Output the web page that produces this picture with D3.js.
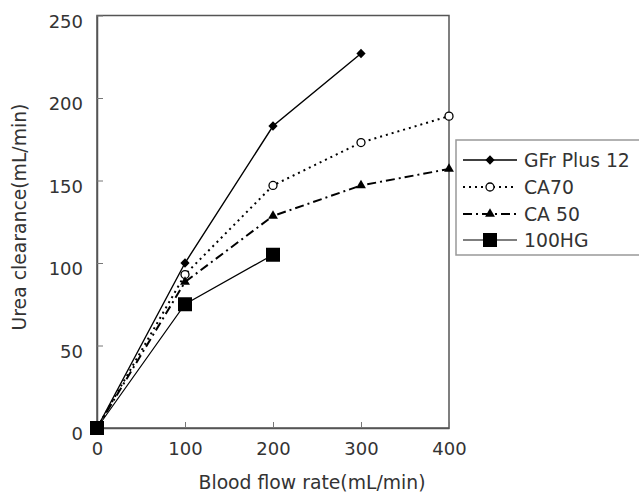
<!DOCTYPE html>
<html><head><meta charset="utf-8">
<script src="https://cdn.jsdelivr.net/npm/d3@7"></script>
<style>body{margin:0;background:#fff}svg{display:block}text{font-family:"DejaVu Sans",sans-serif;fill:#333}</style>
</head><body><svg id="c" width="639" height="492"></svg>
<script>
const flowRates = [0, 100, 200, 300, 400];
const gfrPlus12 = [0, 100, 183, 227];
const ca70 = [0, 93, 147, 173, 189];
const ca50 = [0, 88.5, 128.5, 147, 157];
const hg100 = [0, 75, 105];
const xTicks = [0, 100, 200, 300, 400];
const yTicks = [0, 50, 100, 150, 200, 250];
const seriesNames = ["GFr Plus 12", "CA70", "CA 50", "100HG"];

const svg = d3.select("#c");
const x = d3.scaleLinear().domain([0, 400]).range([97, 449]);
const y = d3.scaleLinear().domain([0, 250]).range([428, 15.5]);
const axisColor = "#555";

svg.append("rect").attr("x", 97).attr("y", 15.5).attr("width", 352).attr("height", 412.5)
  .attr("fill", "none").attr("stroke", axisColor).attr("stroke-width", 1.5);

const xAxis = svg.append("g").attr("transform", "translate(0,428)")
  .call(d3.axisBottom(x).tickValues(xTicks).tickSizeInner(-6).tickSizeOuter(0).tickPadding(14));
xAxis.select(".domain").attr("stroke", axisColor).attr("stroke-width", 1.5);
xAxis.selectAll(".tick line").attr("stroke", "#777");
xAxis.selectAll("text").attr("font-size", 18).attr("fill", "#333").attr("font-family", "DejaVu Sans");

const yAxis = svg.append("g").attr("transform", "translate(97,0)")
  .call(d3.axisLeft(y).tickValues(yTicks).tickSizeInner(-6).tickSizeOuter(0).tickPadding(14));
yAxis.select(".domain").attr("stroke", axisColor).attr("stroke-width", 1.5);
yAxis.selectAll(".tick line").attr("stroke", "#777");
yAxis.selectAll("text").attr("font-size", 18).attr("fill", "#333").attr("font-family", "DejaVu Sans").attr("dy", "0.65em");

svg.append("text").attr("x", 312).attr("y", 489).attr("text-anchor", "middle")
  .attr("font-size", 18.8).text("Blood flow rate(mL/min)");
svg.append("text").attr("transform", "translate(26,217) rotate(-90)").attr("text-anchor", "middle")
  .attr("font-size", 18.8).text("Urea clearance(mL/min)");

const styles = [
  {data: gfrPlus12, dash: null, sw: 1.4, marker: "diamond"},
  {data: ca70, dash: "2,4", sw: 2, marker: "circle"},
  {data: ca50, dash: "9,4,2,4", sw: 2, marker: "triangle"},
  {data: hg100, dash: null, sw: 1.2, marker: "square"}
];

function drawMarker(g, type, cx, cy) {
  if (type === "diamond") {
    g.append("path").attr("d", "M0,-4.8L4.6,0L0,4.8L-4.6,0Z").attr("transform", `translate(${cx},${cy})`).attr("fill", "#000");
  } else if (type === "circle") {
    g.append("circle").attr("cx", cx).attr("cy", cy).attr("r", 4).attr("fill", "#fff").attr("stroke", "#000").attr("stroke-width", 1.3);
  } else if (type === "triangle") {
    g.append("path").attr("d", d3.symbol(d3.symbolTriangle, 42)()).attr("transform", `translate(${cx},${cy})`).attr("fill", "#000");
  } else {
    g.append("rect").attr("x", cx - 7).attr("y", cy - 7).attr("width", 14).attr("height", 14).attr("fill", "#000");
  }
}

const line = d3.line().x((d, i) => x(flowRates[i])).y(d => y(d));
const plot = svg.append("g");
styles.forEach(s => {
  plot.append("path").attr("d", line(s.data)).attr("fill", "none").attr("stroke", "#000")
    .attr("stroke-width", s.sw).attr("stroke-dasharray", s.dash);
});
styles.forEach(s => {
  s.data.forEach((v, i) => drawMarker(plot, s.marker, x(flowRates[i]), y(v)));
});

const lg = svg.append("g");
lg.append("rect").attr("x", 456).attr("y", 140).attr("width", 190).attr("height", 115)
  .attr("fill", "#fff").attr("stroke", "#999").attr("stroke-width", 1.5);
const rowsY = [160, 187, 214, 240];
styles.forEach((s, i) => {
  const ry = rowsY[i];
  lg.append("line").attr("x1", 463).attr("x2", 517).attr("y1", ry).attr("y2", ry)
    .attr("stroke", "#000").attr("stroke-width", s.sw).attr("stroke-dasharray", s.dash);
  drawMarker(lg, s.marker, 490, ry);
  lg.append("text").attr("x", 524).attr("y", ry + 7).attr("font-size", 18.8).text(seriesNames[i]);
});
</script></body></html>
